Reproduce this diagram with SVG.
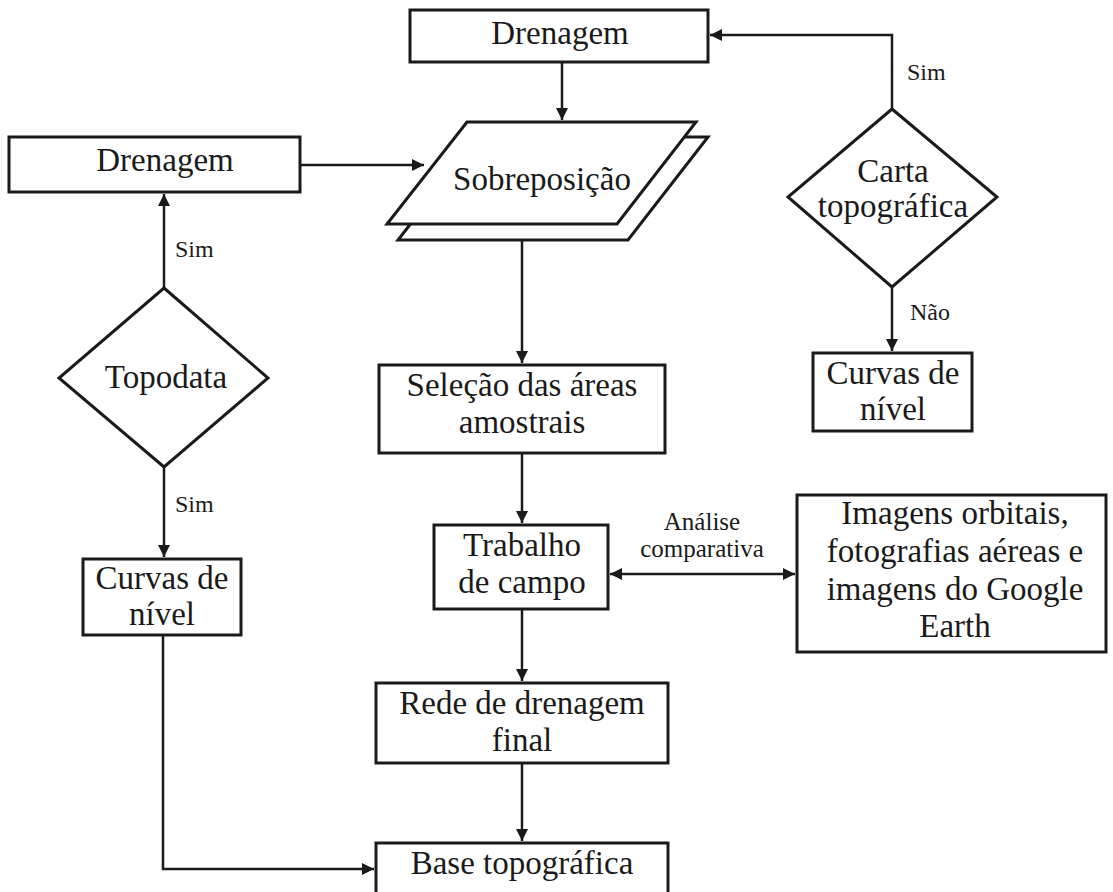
<svg xmlns="http://www.w3.org/2000/svg" width="1113" height="892" viewBox="0 0 1113 892">
<style>
.box{fill:#fff;stroke:#1a1a1a;stroke-width:3}
.t{font-family:"Liberation Serif","Times New Roman",serif;font-size:33px;fill:#1a1a1a;text-anchor:middle}
.lbl{font-family:"Liberation Serif","Times New Roman",serif;font-size:24px;fill:#1a1a1a}
.sm{font-family:"Liberation Serif","Times New Roman",serif;font-size:25px;fill:#1a1a1a;text-anchor:middle}
.c{fill:none;stroke:#1a1a1a;stroke-width:2.5}
</style>
<defs>
<marker id="ah" viewBox="0 0 10 10" refX="10" refY="5" markerWidth="13" markerHeight="12" markerUnits="userSpaceOnUse" orient="auto-start-reverse">
<path d="M0,0 L10,5 L0,10 z" fill="#1a1a1a"/>
</marker>
</defs>
<rect width="1113" height="892" fill="#fff"/>
<g id="connectors">
<path class="c" d="M562,62 V120" marker-end="url(#ah)"/>
<path class="c" d="M300,165 H424" marker-end="url(#ah)"/>
<path class="c" d="M522,240 V363" marker-end="url(#ah)"/>
<path class="c" d="M522,453 V523" marker-end="url(#ah)"/>
<path class="c" d="M522,609 V681" marker-end="url(#ah)"/>
<path class="c" d="M522,763 V841" marker-end="url(#ah)"/>
<path class="c" d="M163,635 V869 H374" marker-end="url(#ah)"/>
<path class="c" d="M164,288 V194" marker-end="url(#ah)"/>
<path class="c" d="M164,467 V557" marker-end="url(#ah)"/>
<path class="c" d="M892,109 V35 H710" marker-end="url(#ah)"/>
<path class="c" d="M892,287 V351" marker-end="url(#ah)"/>
<path class="c" d="M610,574 H795" marker-start="url(#ah)" marker-end="url(#ah)"/>
<text class="lbl" x="175" y="257">Sim</text>
<text class="lbl" x="175" y="512">Sim</text>
<text class="lbl" x="907" y="80">Sim</text>
<text class="lbl" x="910" y="320">Não</text>
<text class="sm" x="702" y="530">Análise</text>
<text class="sm" x="702" y="557">comparativa</text>
</g>
<g id="drenagem-top">
<rect class="box" x="410" y="10" width="298" height="52"/>
<text class="t" x="560" y="44">Drenagem</text>
</g>
<g id="drenagem-left">
<rect class="box" x="9" y="137" width="291" height="55"/>
<text class="t" x="165" y="171">Drenagem</text>
</g>
<g id="sobreposicao">
<polygon class="box" points="478,137 708,137 628,240 398,240"/>
<polygon class="box" points="467,122 696,122 617,224 387,224"/>
<text class="t" x="542" y="190">Sobreposição</text>
</g>
<g id="topodata">
<polygon class="box" points="164,288 268,378 164,467 59,378"/>
<text class="t" x="166" y="388">Topodata</text>
</g>
<g id="carta">
<polygon class="box" points="892,109 997,197 892,287 788,197"/>
<text class="t" x="893" y="182">Carta</text>
<text class="t" x="893" y="217">topográfica</text>
</g>
<g id="curvas-right">
<rect class="box" x="813" y="353" width="159" height="78"/>
<text class="t" x="893" y="384">Curvas de</text>
<text class="t" x="893" y="420">nível</text>
</g>
<g id="curvas-left">
<rect class="box" x="83" y="559" width="158" height="76"/>
<text class="t" x="162" y="589">Curvas de</text>
<text class="t" x="162" y="625">nível</text>
</g>
<g id="selecao">
<rect class="box" x="379" y="365" width="286" height="88"/>
<text class="t" x="522" y="396">Seleção das áreas</text>
<text class="t" x="522" y="433">amostrais</text>
</g>
<g id="trabalho">
<rect class="box" x="434" y="525" width="174" height="84"/>
<text class="t" x="522" y="556">Trabalho</text>
<text class="t" x="522" y="593">de campo</text>
</g>
<g id="imagens">
<rect class="box" x="797" y="495" width="309" height="157"/>
<text class="t" x="955" y="524">Imagens orbitais,</text>
<text class="t" x="955" y="562">fotografias aéreas e</text>
<text class="t" x="955" y="600">imagens do Google</text>
<text class="t" x="955" y="637">Earth</text>
</g>
<g id="rede">
<rect class="box" x="376" y="683" width="292" height="80"/>
<text class="t" x="522" y="714">Rede de drenagem</text>
<text class="t" x="522" y="751">final</text>
</g>
<g id="base">
<rect class="box" x="376" y="843" width="292" height="60"/>
<text class="t" x="522" y="874">Base topográfica</text>
</g>
</svg>
